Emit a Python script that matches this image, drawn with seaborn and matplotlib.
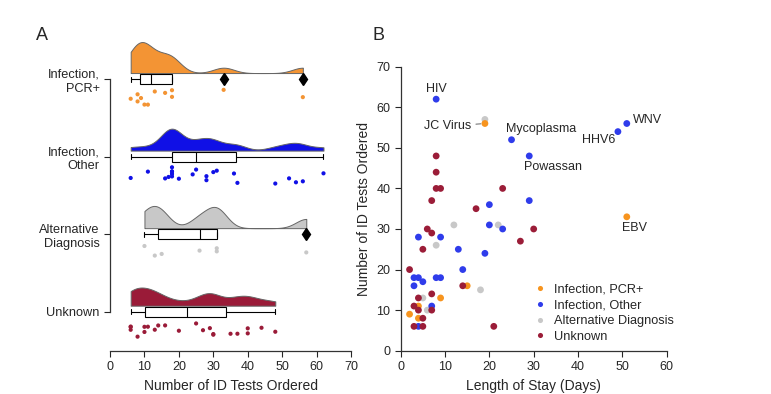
import numpy as np
import pandas as pd
import matplotlib
matplotlib.use("Agg")
import matplotlib.pyplot as plt
import seaborn as sns

groups = ["Infection, PCR+", "Infection, Other", "Alternative Diagnosis", "Unknown"]
group_ticks = ["Infection,\nPCR+", "Infection,\nOther", "Alternative\nDiagnosis", "Unknown"]
colors_a = ["#F39434", "#1010E6", "#C8C8C8", "#9A1B38"]
colors_b = ["#F7941E", "#2F3CEB", "#C8C8C8", "#9B1D38"]

# panel A: number of ID tests per patient
tests_pcr = [6, 8, 8, 9, 10, 11, 13, 16, 18, 18, 33, 56]
tests_other = [6, 11, 16, 17, 18, 18, 18, 18, 18, 20, 24, 25, 28, 28, 30, 31,
               36, 37, 48, 52, 54, 56, 62]
tests_alt = [10, 13, 15, 26, 31, 31, 57]
tests_unknown = [6, 6, 6, 8, 10, 10, 11, 13, 14, 16, 20, 25, 27, 29, 30, 30,
                 35, 37, 40, 40, 44, 48]

# panel B: length of stay vs tests
stay_alt = [19, 12, 22, 8, 18, 5, 6]
count_alt = [57, 31, 31, 26, 15, 13, 10]
stay_pcr = [2, 4, 4, 9, 15, 19, 51]
count_pcr = [9, 11, 8, 13, 16, 56, 33]
stay_other = [8, 25, 29, 49, 51, 20, 29, 3, 4, 3, 5, 4, 9, 8, 9, 13, 14, 19,
              20, 23, 7, 4]
count_other = [62, 52, 48, 54, 56, 36, 37, 18, 18, 16, 17, 28, 28, 18, 18, 25,
               20, 24, 31, 30, 11, 6]
stay_unknown = [2, 3, 3, 4, 4, 5, 5, 5, 6, 7, 7, 7, 7, 8, 9, 14, 17, 23, 27,
                30, 21, 8, 8]
count_unknown = [20, 11, 6, 13, 10, 8, 6, 25, 30, 29, 37, 14, 10, 40, 40, 16,
                 35, 40, 27, 30, 6, 48, 44]

labels_b = ["HIV", "JC Virus", "Mycoplasma", "Powassan", "HHV6", "WNV", "EBV"]
label_x = [8, 19, 25, 29, 49, 51, 51]
label_y = [62, 56, 52, 48, 54, 56, 33]

tests_all = [tests_pcr, tests_other, tests_alt, tests_unknown]
dfA = pd.DataFrame({
    "group": np.repeat(groups, [len(t) for t in tests_all]),
    "tests": np.concatenate(tests_all),
})
dfB = pd.concat([
    pd.DataFrame({"group": groups[2], "stay": stay_alt, "tests": count_alt}),
    pd.DataFrame({"group": groups[0], "stay": stay_pcr, "tests": count_pcr}),
    pd.DataFrame({"group": groups[1], "stay": stay_other, "tests": count_other}),
    pd.DataFrame({"group": groups[3], "stay": stay_unknown, "tests": count_unknown}),
], ignore_index=True)

sns.set_style("ticks")
plt.rcParams["font.family"] = ["Liberation Sans", "DejaVu Sans"]
plt.rcParams["axes.edgecolor"] = "#333333"
plt.rcParams["axes.linewidth"] = 0.9
np.random.seed(3)

fig = plt.figure(figsize=(7.71, 3.94), dpi=100)

# ---------- panel A : raincloud ----------
axA = fig.add_axes([0.1427, 0.110, 0.3126, 0.801])
sns.boxplot(data=dfA, x="tests", y="group", order=groups, orient="h",
            width=0.13, color="white", saturation=1, linecolor="black",
            linewidth=0.8, fliersize=6.5,
            flierprops={"marker": "d", "markerfacecolor": "black"}, ax=axA)

n_before = len(axA.collections)
sns.stripplot(data=dfA, x="tests", y="group", order=groups, hue="group",
              hue_order=groups, palette=colors_a, jitter=0.11, size=3,
              linewidth=0, legend=False, ax=axA)
for c in axA.collections[n_before:]:
    offs = c.get_offsets()
    offs[:, 1] = offs[:, 1] + 0.24
    c.set_offsets(offs)

# half violins (gaussian kde, cut at data range)
bw = 3.0
dens_list = []
for vals in tests_all:
    v = np.array(vals, dtype=float)
    grid = np.linspace(v.min(), v.max(), 300)
    d = np.exp(-0.5 * ((grid[:, None] - v[None, :]) / bw) ** 2).sum(1)
    d = d / (len(v) * bw * np.sqrt(2 * np.pi))
    dens_list.append((grid, d))
scale = 0.40 / dens_list[0][1].max()
for i, (grid, d) in enumerate(dens_list):
    base = i - 0.08
    axA.fill_between(grid, base, base - d * scale, facecolor=colors_a[i],
                     edgecolor="#666666", linewidth=0.7, zorder=1)

axA.set_xlim(0, 70)
axA.set_ylim(3.5, -0.57)
axA.set_xticks(range(0, 71, 10))
axA.set_yticks(range(4))
axA.set_yticklabels(group_ticks, fontsize=9.2)
axA.tick_params(axis="x", labelsize=9, length=4, width=0.8)
axA.tick_params(axis="y", length=4, width=0.8)
axA.set_ylabel("")
axA.set_xlabel("Number of ID Tests Ordered", fontsize=10)
sns.despine(ax=axA)
axA.spines["left"].set_bounds(0, 3)

# ---------- panel B : scatter ----------
axB = fig.add_axes([0.5197, 0.1099, 0.345, 0.7208])
sns.scatterplot(data=dfB, x="stay", y="tests", hue="group", hue_order=groups,
                palette=colors_b, s=24, linewidth=0, ax=axB)
axB.set_xlim(0, 60)
axB.set_ylim(0, 70)
axB.set_xticks(range(0, 61, 10))
axB.set_yticks(range(0, 71, 10))
axB.tick_params(labelsize=9, length=4, width=0.8)
axB.set_xlabel("Length of Stay (Days)", fontsize=10)
axB.set_ylabel("Number of ID Tests Ordered", fontsize=10)
sns.despine(ax=axB)

handles, labs = axB.get_legend_handles_labels()
axB.legend(handles, labs, loc="upper left", bbox_to_anchor=(0.455, 0.255),
           frameon=False, fontsize=9.2, handletextpad=0.1, labelspacing=0.3,
           markerscale=0.75, borderaxespad=0)

offsets = [(0, 7.2, "center"), (-9.8, -2, "right"), (-3.8, 7.9, "left"),
           (-3.6, -7.9, "left"), (-1.7, -6.3, "right"), (4.3, 2.4, "left"),
           (-3.3, -8.4, "left")]
for lab, x, y, (dx, dy, ha) in zip(labels_b, label_x, label_y, offsets):
    arrow = None
    if lab == "JC Virus":
        arrow = dict(arrowstyle="-", color="#777777", lw=0.8, shrinkA=1, shrinkB=3)
    axB.annotate(lab, (x, y), xytext=(dx, dy), textcoords="offset points",
                 ha=ha, va="center", fontsize=9, arrowprops=arrow)

fig.text(42 / 771, 1 - 35 / 394, "A", fontsize=13, ha="center", va="center")
fig.text(378 / 771, 1 - 35 / 394, "B", fontsize=13, ha="center", va="center")

fig.savefig("out.png", dpi=100)
